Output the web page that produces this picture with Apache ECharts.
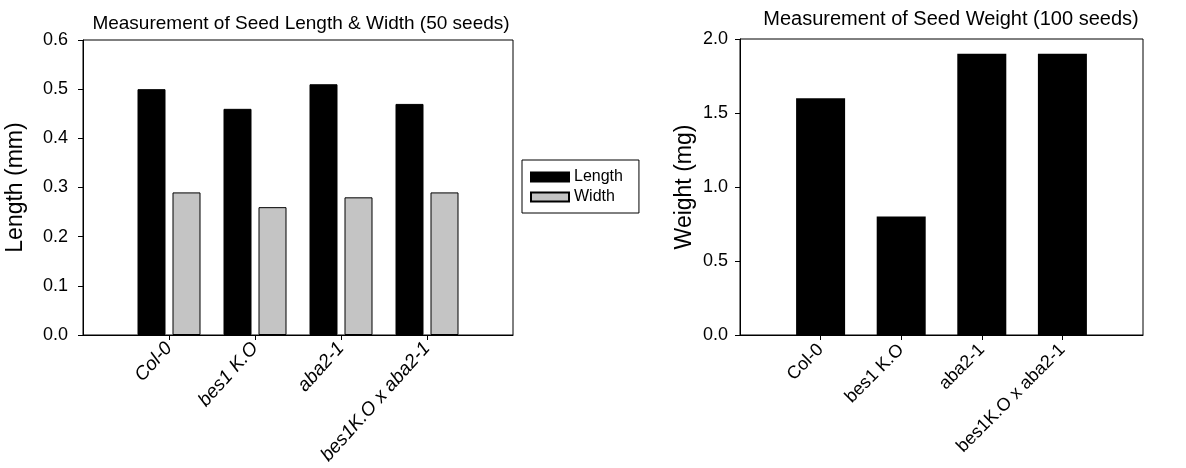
<!DOCTYPE html>
<html><head><meta charset="utf-8">
<script src="https://cdn.jsdelivr.net/npm/echarts@6/dist/echarts.min.js"></script>
<style>html,body{margin:0;padding:0;background:#fff}#c{width:1186px;height:468px}</style>
</head><body><div id="c"></div>
<script>
const categories = ['Col-0', 'bes1 K.O', 'aba2-1', 'bes1K.O x aba2-1'];
const lengthVals = [0.50, 0.46, 0.51, 0.47];
const widthVals = [0.29, 0.26, 0.28, 0.29];
const weightVals = [1.6, 0.8, 1.9, 1.9];
const leftTicks = [0.0, 0.1, 0.2, 0.3, 0.4, 0.5, 0.6];
const rightTicks = [0.0, 0.5, 1.0, 1.5, 2.0];

const axisCats = [''].concat(categories, ['']);
const pad = arr => [null].concat(arr, [null]);
const inner = idx => idx > 0 && idx < axisCats.length - 1;
const FONT = '"Liberation Sans", Arial, sans-serif';

const chart = echarts.init(document.getElementById('c'));
function xAxis(gi, italic, size, margin, rot) {
  return {
    type: 'category', gridIndex: gi, data: axisCats, boundaryGap: false,
    axisLine: { lineStyle: { color: '#000', width: 1 } },
    axisTick: { interval: inner, length: 5, lineStyle: { color: '#000' } },
    axisLabel: { interval: inner, rotate: rot, margin: margin, color: '#000', fontSize: size,
      fontFamily: FONT, fontStyle: italic ? 'italic' : 'normal' },
    splitLine: { show: false }
  };
}
function yAxis(gi, ticks, name, gap, margin) {
  return {
    type: 'value', gridIndex: gi, min: ticks[0], max: ticks[ticks.length - 1],
    interval: ticks[1] - ticks[0],
    name: name, nameLocation: 'middle', nameGap: gap, nameRotate: 90,
    nameTextStyle: { color: '#000', fontSize: 23, fontFamily: FONT },
    axisLine: { show: true, lineStyle: { color: '#000', width: 1 } },
    axisTick: { show: true, length: 5, lineStyle: { color: '#000' } },
    axisLabel: { color: '#000', fontSize: 18, fontFamily: FONT, margin: margin,
      formatter: v => v.toFixed(1) },
    splitLine: { show: false }
  };
}
chart.setOption({
  animation: false,
  backgroundColor: '#fff',
  title: [
    { text: 'Measurement of Seed Length & Width (50 seeds)', left: 296, top: 9, textAlign: 'center',
      textStyle: { color: '#000', fontSize: 19, fontWeight: 'normal', fontFamily: FONT } },
    { text: 'Measurement of Seed Weight (100 seeds)', left: 946, top: 4, textAlign: 'center',
      textStyle: { color: '#000', fontSize: 20, fontWeight: 'normal', fontFamily: FONT } }
  ],
  legend: {
    orient: 'vertical', left: 522, top: 160, data: ['Length', 'Width'],
    borderColor: '#000', borderWidth: 1, padding: [9, 16, 8, 8], itemGap: 4,
    itemWidth: 38, itemHeight: 9, textStyle: { color: '#000', fontSize: 16, fontFamily: FONT },
    icon: 'rect'
  },
  grid: [
    { left: 83, top: 40, width: 430, height: 295, show: true, borderColor: '#000', borderWidth: 1, backgroundColor: 'transparent' },
    { left: 740, top: 39, width: 403, height: 296, show: true, borderColor: '#000', borderWidth: 1, backgroundColor: 'transparent' }
  ],
  xAxis: [xAxis(0, true, 19, 10, 48), xAxis(1, false, 18, 12, 45)],
  yAxis: [yAxis(0, leftTicks, 'Length (mm)', 56, 15), yAxis(1, rightTicks, 'Weight (mg)', 44, 12)],
  series: [
    { name: 'Length', type: 'bar', xAxisIndex: 0, yAxisIndex: 0, data: pad(lengthVals),
      barWidth: 28, barGap: '25%', itemStyle: { color: '#000', borderColor: '#000', borderWidth: 1 } },
    { name: 'Width', type: 'bar', xAxisIndex: 0, yAxisIndex: 0, data: pad(widthVals),
      barWidth: 28, barGap: '25%', itemStyle: { color: '#c4c4c4', borderColor: '#000', borderWidth: 1 } },
    { name: 'Weight', type: 'bar', xAxisIndex: 1, yAxisIndex: 1, data: pad(weightVals),
      barWidth: 49, itemStyle: { color: '#000' } }
  ]
});
</script></body></html>
